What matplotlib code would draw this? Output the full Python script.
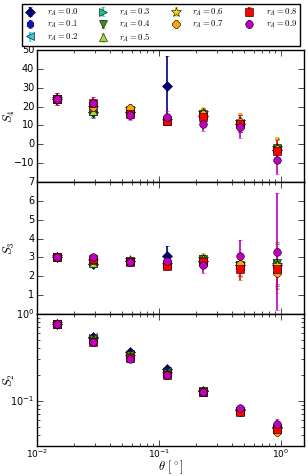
import matplotlib
matplotlib.use("Agg")
import matplotlib.pyplot as plt

plt.style.use("classic")

# angular bins (degrees)
theta = [0.0145, 0.029, 0.058, 0.116, 0.232, 0.464, 0.928]

r_values = [0.0, 0.1, 0.2, 0.3, 0.4, 0.5, 0.6, 0.7, 0.8, 0.9]

# S4 per r_A
s4 = {
    0.0: [24, 17, 17, 31, 15, 11, -3],
    0.1: [24, 17.5, 17, 13, 15, 11, -3],
    0.2: [24, 17.5, 17.5, 13, 15.5, 11.5, -2.5],
    0.3: [24, 17.5, 17.5, 13, 16, 11.5, -2.5],
    0.4: [24, 17.5, 18, 12.5, 16, 11, -2],
    0.5: [24, 17.5, 18, 12.5, 16.5, 11.5, -2],
    0.6: [24, 19, 18.5, 12.5, 16.5, 12, -2],
    0.7: [24, 20, 19, 13, 16, 12, -2.5],
    0.8: [24, 22, 16, 12.5, 14.5, 11, -3.5],
    0.9: [24, 22, 15.5, 14.5, 11, 9, -8.5],
}
s4_err = [3, 3, 2.5, 2.5, 3.5, 4.5, 6]
s4_err_r0 = [3, 3, 2.5, 16, 3.5, 4.5, 6]
s4_err_r9 = [3, 3, 2.5, 3, 4, 5.5, 7]

# S3 per r_A
s3 = {
    0.0: [3.0, 2.65, 2.8, 3.1, 2.8, 2.6, 2.6],
    0.1: [3.0, 2.7, 2.8, 2.65, 2.85, 2.6, 2.6],
    0.2: [3.0, 2.7, 2.8, 2.65, 2.85, 2.55, 2.5],
    0.3: [3.0, 2.7, 2.8, 2.65, 2.9, 2.6, 2.7],
    0.4: [3.0, 2.7, 2.8, 2.6, 2.9, 2.6, 2.7],
    0.5: [3.0, 2.7, 2.8, 2.6, 2.95, 2.6, 2.65],
    0.6: [3.0, 2.8, 2.85, 2.6, 2.9, 2.65, 2.6],
    0.7: [3.0, 2.85, 2.8, 2.6, 2.8, 2.65, 2.2],
    0.8: [3.0, 2.9, 2.75, 2.55, 2.75, 2.4, 2.4],
    0.9: [3.0, 3.0, 2.75, 2.8, 2.6, 3.05, 3.3],
}
s3_err = [0.1, 0.12, 0.15, 0.2, 0.3, 0.6, 1.1]
s3_err_r0 = [0.1, 0.12, 0.15, 0.5, 0.3, 0.6, 1.1]
s3_err_r9 = [0.1, 0.1, 0.15, 0.2, 0.4, 0.9, 3.1]

# S2 per r_A
s2 = {
    0.0: [0.77, 0.55, 0.36, 0.235, 0.128, 0.078, 0.05],
    0.1: [0.77, 0.54, 0.35, 0.225, 0.128, 0.078, 0.049],
    0.2: [0.77, 0.54, 0.345, 0.22, 0.128, 0.077, 0.048],
    0.3: [0.77, 0.53, 0.34, 0.215, 0.128, 0.077, 0.048],
    0.4: [0.77, 0.52, 0.335, 0.21, 0.128, 0.077, 0.047],
    0.5: [0.77, 0.51, 0.33, 0.21, 0.127, 0.077, 0.047],
    0.6: [0.77, 0.5, 0.32, 0.205, 0.127, 0.076, 0.046],
    0.7: [0.77, 0.49, 0.315, 0.2, 0.126, 0.075, 0.044],
    0.8: [0.77, 0.48, 0.31, 0.2, 0.125, 0.075, 0.047],
    0.9: [0.77, 0.47, 0.305, 0.2, 0.125, 0.0815, 0.054],
}
s2_err = [0.01, 0.01, 0.008, 0.006, 0.004, 0.004, 0.004]
s2_err_r9 = [0.01, 0.01, 0.008, 0.006, 0.005, 0.006, 0.008]

colors = ["navy", "#1010d0", "#30c8e8", "#20c090", "#409020",
          "#a0e040", "gold", "orange", "red", "m"]
markers = ["D", "h", "<", ">", "v", "^", "*", "8", "s", "o"]

fig = plt.figure(figsize=(3.08, 4.76), dpi=100)
fig.patch.set_facecolor("white")
left, width = 37 / 308, 267 / 308
h = 132 / 476
ax1 = fig.add_axes([left, 1 - 182 / 476, width, h])
ax2 = fig.add_axes([left, 1 - 314 / 476, width, h], sharex=ax1)
ax3 = fig.add_axes([left, 1 - 446 / 476, width, h], sharex=ax1)

handles = []
for i, r in enumerate(r_values):
    kw = dict(fmt=markers[i], color=colors[i], ecolor=colors[i], mec="k",
              mew=0.4, ms=5.5 if markers[i] != "*" else 7.5, elinewidth=1.2,
              capsize=1.5, capthick=1)
    e4 = s4_err_r0 if r == 0.0 else (s4_err_r9 if r == 0.9 else s4_err)
    e3 = s3_err_r0 if r == 0.0 else (s3_err_r9 if r == 0.9 else s3_err)
    e2 = s2_err_r9 if r == 0.9 else s2_err
    hnd = ax1.errorbar(theta, s4[r], yerr=e4, label=r"$r_A=%.1f$" % r, **kw)
    ax2.errorbar(theta, s3[r], yerr=e3, **kw)
    ax3.errorbar(theta, s2[r], yerr=e2, **kw)
    handles.append(hnd)

for ax in (ax1, ax2, ax3):
    ax.set_xscale("log")
    ax.tick_params(labelsize=7, length=4, pad=2, which="major")
    ax.tick_params(length=2, pad=2, which="minor")
ax3.tick_params(axis="x", which="both", pad=1, labelsize=6.5)
ax1.set_xlim(0.01, 1.55)

ax1.set_ylim(-20, 50)
ax1.set_yticks([-10, 0, 10, 20, 30, 40, 50])
ax2.set_ylim(0, 7)
ax2.set_yticks([1, 2, 3, 4, 5, 6, 7])
ax3.set_yscale("log")
ax3.set_ylim(0.03, 1)

plt.setp(ax1.get_xticklabels(), visible=False)
plt.setp(ax2.get_xticklabels(), visible=False)

ax1.set_ylabel(r"$S_4$", fontsize=9)
ax2.set_ylabel(r"$S_3$", fontsize=9)
ax3.set_ylabel(r"$S_2$", fontsize=9)
ax3.set_xlabel(r"$\theta\ [^\circ]$", fontsize=9, va="center")
ax3.xaxis.set_label_coords(0.5, -21 / 132)
for ax in (ax1, ax2, ax3):
    ax.yaxis.set_label_coords(-0.075, 0.5)

fig.legend(handles=handles, loc="upper center", ncol=4, fontsize=6.3,
           numpoints=1, borderaxespad=0, handlelength=1.2,
           handletextpad=1.3, columnspacing=2.2,
           bbox_to_anchor=(161 / 308, 1 - 4 / 476),
           labelspacing=0.1, borderpad=0.3, fancybox=False)

fig.savefig("out.png", dpi=100, facecolor="white")
